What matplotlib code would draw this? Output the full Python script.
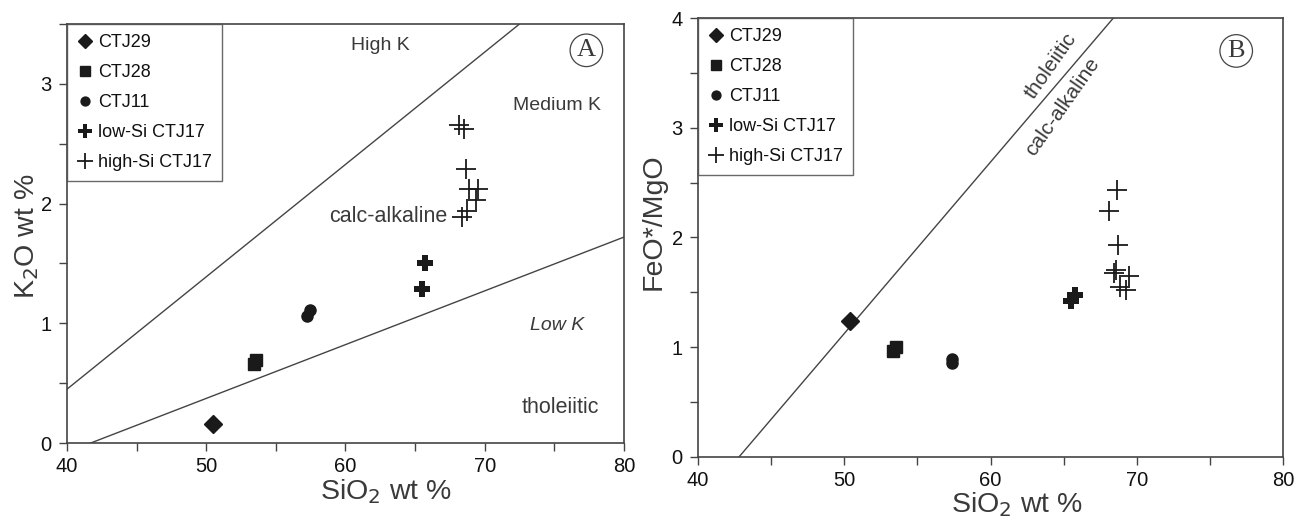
import numpy as np
import matplotlib
matplotlib.use("Agg")
import matplotlib.pyplot as plt
from matplotlib.ticker import MultipleLocator

plt.rcParams['font.family'] = ['Liberation Sans', 'DejaVu Sans']

# --- panel A: K2O vs SiO2 ---
a_ctj29_x = [50.45]
a_ctj29_y = [0.16]
a_ctj28_x = [53.45, 53.55]
a_ctj28_y = [0.66, 0.69]
a_ctj11_x = [57.25, 57.45]
a_ctj11_y = [1.06, 1.11]
a_low_x = [65.5, 65.7]
a_low_y = [1.29, 1.50]
a_high_x = [68.15, 68.5, 68.65, 68.9, 69.5, 69.35, 68.75, 68.4]
a_high_y = [2.66, 2.62, 2.29, 2.12, 2.12, 2.03, 1.94, 1.89]

# boundary lines (end points)
a_highk_line_x = [40, 72.5]
a_highk_line_y = [0.45, 3.5]
a_lowk_line_x = [41.7, 80]
a_lowk_line_y = [0.0, 1.72]

# --- panel B: FeO*/MgO vs SiO2 ---
b_ctj29_x = [50.4]
b_ctj29_y = [1.24]
b_ctj28_x = [53.35, 53.55]
b_ctj28_y = [0.97, 1.00]
b_ctj11_x = [57.35, 57.4]
b_ctj11_y = [0.86, 0.89]
b_low_x = [65.5, 65.8]
b_low_y = [1.42, 1.48]
b_high_x = [68.65, 68.1, 68.7, 68.45, 69.5, 68.85, 69.25, 68.6]
b_high_y = [2.43, 2.24, 1.93, 1.68, 1.65, 1.55, 1.52, 1.70]

b_line_x = [42.8, 68.4]
b_line_y = [0.0, 4.0]

txt = '#3a3a3a'
edge = '#444444'

fig = plt.figure(figsize=(13.04, 5.19), dpi=100)
axA = fig.add_axes([0.0514, 0.1464, 0.4271, 0.8074])
axB = fig.add_axes([0.5353, 0.1195, 0.4486, 0.8458])


def style(ax, ymax, ylabel):
    ax.set_xlim(40, 80)
    ax.set_ylim(0, ymax)
    ax.xaxis.set_major_locator(MultipleLocator(10))
    ax.xaxis.set_minor_locator(MultipleLocator(5))
    ax.yaxis.set_major_locator(MultipleLocator(1))
    ax.yaxis.set_minor_locator(MultipleLocator(0.5))
    ax.tick_params(which='both', direction='out', color=edge, width=1)
    ax.tick_params(which='major', length=6, labelsize=14.5, labelcolor='#111111', pad=5)
    ax.tick_params(which='minor', length=6)
    ax.tick_params(axis='x', which='major', pad=4)
    for s in ax.spines.values():
        s.set_color(edge)
        s.set_linewidth(1.2)
    ax.set_xlabel('SiO$_2$ wt %', fontsize=20.5, color=txt)
    ax.set_ylabel(ylabel, fontsize=20.5, color=txt)


def points(ax, d):
    ax.plot(d[0], d[1], 'D', color='#1a1a1a', ms=9, ls='none', label='CTJ29')
    ax.plot(d[2], d[3], 's', color='#1a1a1a', ms=9, ls='none', label='CTJ28')
    ax.plot(d[4], d[5], 'o', color='#1a1a1a', ms=8, ls='none', label='CTJ11')
    ax.plot(d[6], d[7], 'P', color='#1a1a1a', ms=12, mew=0, ls='none', label='low-Si CTJ17')
    ax.plot(d[8], d[9], '+', color='#1a1a1a', ms=15, mew=1.3, ls='none', label='high-Si CTJ17')
    leg = ax.legend(loc='upper left', borderaxespad=0, fancybox=False, frameon=True,
                    fontsize=13, handlelength=0.9, handletextpad=0.25,
                    labelspacing=0.72, borderpad=0.55, markerscale=0.8)
    leg.get_frame().set_edgecolor(edge)
    leg.get_frame().set_linewidth(1.0)
    for t in leg.get_texts():
        t.set_color('#111111')


def circled(ax, x, y, s):
    ax.text(x, y, s, fontsize=19, color=txt, ha='center', va='center',
            family='Liberation Serif',
            bbox=dict(boxstyle='circle,pad=0.2', fc='white', ec=edge, lw=0.9))


# panel A
style(axA, 3.5, 'K$_2$O wt %')
axA.xaxis.set_label_coords(0.573, -0.082)
axA.yaxis.set_label_coords(-0.047, 0.494)
axA.plot(a_highk_line_x, a_highk_line_y, color=edge, lw=1)
axA.plot(a_lowk_line_x, a_lowk_line_y, color=edge, lw=1)
points(axA, [a_ctj29_x, a_ctj29_y, a_ctj28_x, a_ctj28_y, a_ctj11_x, a_ctj11_y,
             a_low_x, a_low_y, a_high_x, a_high_y])
axA.text(62.5, 3.32, 'High K', fontsize=14, color=txt, ha='center', va='center')
axA.text(75.2, 2.82, 'Medium K', fontsize=14, color=txt, ha='center', va='center')
axA.text(63.1, 1.89, 'calc-alkaline', fontsize=15.5, color=txt, ha='center', va='center')
axA.text(75.2, 0.98, 'Low K', fontsize=14, color=txt, ha='center', va='center', style='italic')
axA.text(75.4, 0.30, 'tholeiitic', fontsize=15.5, color=txt, ha='center', va='center')
circled(axA, 77.3, 3.28, 'A')

# panel B
style(axB, 4, 'FeO*/MgO')
axB.xaxis.set_label_coords(0.545, -0.075)
axB.yaxis.set_label_coords(-0.053, 0.536)
axB.plot(b_line_x, b_line_y, color=edge, lw=1)
points(axB, [b_ctj29_x, b_ctj29_y, b_ctj28_x, b_ctj28_y, b_ctj11_x, b_ctj11_y,
             b_low_x, b_low_y, b_high_x, b_high_y])
axB.text(64.1, 3.56, 'tholeiitic', fontsize=15, color=txt, ha='center', va='center',
         rotation=55)
axB.text(64.95, 3.19, 'calc-alkaline', fontsize=15, color=txt, ha='center', va='center',
         rotation=55)
circled(axB, 76.8, 3.70, 'B')

fig.savefig('out.png', dpi=100)
